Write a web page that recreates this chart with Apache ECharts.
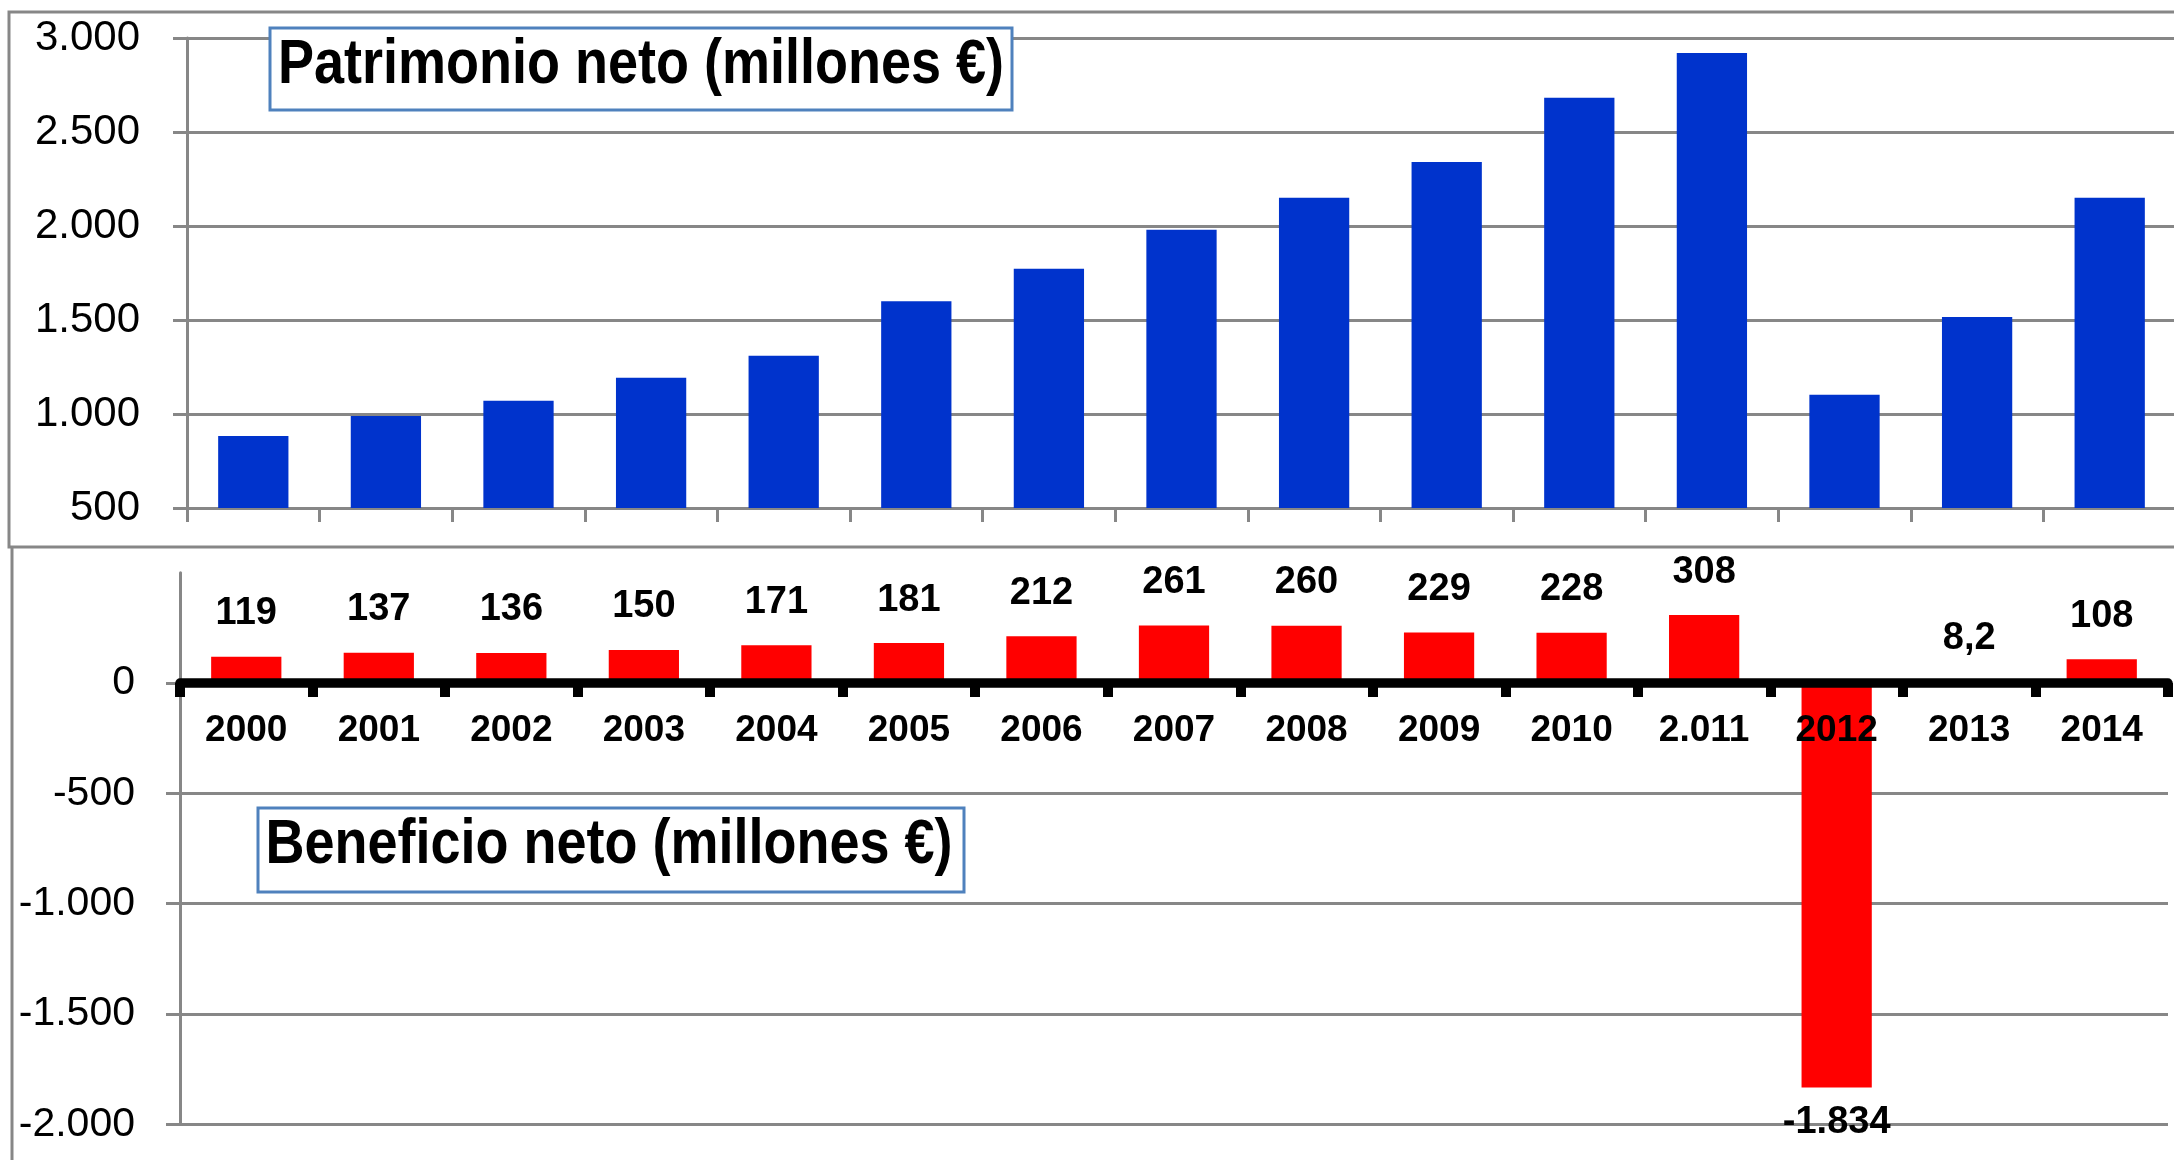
<!DOCTYPE html>
<html>
<head>
<meta charset="utf-8">
<script src="https://cdn.jsdelivr.net/npm/echarts@6/dist/echarts.min.js"></script>
<style>
    html, body {margin: 0; padding: 0; background: #fff;}
    #chart {width: 2174px; height: 1160px;}
</style>
</head>
<body>
<div id="chart"></div>
<script>
    // años
    var years = ['2000', '2001', '2002', '2003', '2004', '2005', '2006', '2007',
        '2008', '2009', '2010', '2.011', '2012', '2013', '2014'];
    // Patrimonio neto (millones €)
    var patrimonio = [883, 990, 1070, 1193, 1310, 1600, 1772, 1980, 2150, 2340, 2682, 2920, 1102, 1516, 2150];
    // Beneficio neto (millones €)
    var beneficio = [119, 137, 136, 150, 171, 181, 212, 261, 260, 229, 228, 308, -1834, 8.2, 108];
    // ejes
    var patrimonioAxis = [500, 3000, 500];
    var beneficioAxis = [-2000, 500, 500];

    var font = "'Liberation Sans', Arial, sans-serif";
    var grey = '#878787';

    // 1834 -> 1.834 , 8.2 -> 8,2
    function fmt(v) {
        var neg = v < 0;
        var parts = String(Math.abs(v)).split('.');
        var ent = parts[0].replace(/\B(?=(\d{3})+(?!\d))/g, '.');
        return (neg ? '-' : '') + ent + (parts[1] ? ',' + parts[1] : '');
    }

    // posición del cero en el gráfico de abajo
    var g2Top = 572.7, g2Height = 551.5;
    var zeroOffset = g2Height * (0 - beneficioAxis[0]) / (beneficioAxis[1] - beneficioAxis[0]);

    var chart = echarts.init(document.getElementById('chart'));
    chart.setOption({
        animation: false,
        backgroundColor: '#fff',
        grid: [
            {left: 187, top: 38, right: -2, height: 470, outerBoundsMode: 'none', containLabel: false},
            {left: 180, top: g2Top, width: 1988, height: g2Height, outerBoundsMode: 'none', containLabel: false}
        ],
        xAxis: [
            {
                gridIndex: 0,
                type: 'category',
                data: years,
                axisLine: {lineStyle: {color: grey, width: 3}},
                axisTick: {show: true, length: 14, lineStyle: {color: grey, width: 3}},
                axisLabel: {show: false}
            },
            {
                gridIndex: 1,
                type: 'category',
                data: years,
                z: 5,
                position: 'bottom',
                offset: -zeroOffset,
                axisLine: {onZero: false, lineStyle: {color: '#000', width: 9.5}},
                axisTick: {show: true, length: 14, lineStyle: {color: '#000', width: 10}},
                axisLabel: {
                    margin: 29,
                    color: '#000',
                    fontFamily: font,
                    fontWeight: 'bold',
                    fontSize: 37,
                    lineHeight: 38
                }
            }
        ],
        yAxis: [
            {
                gridIndex: 0,
                type: 'value',
                min: patrimonioAxis[0],
                max: patrimonioAxis[1],
                interval: patrimonioAxis[2],
                axisLine: {show: true, lineStyle: {color: grey, width: 3}},
                axisTick: {show: true, length: 14, lineStyle: {color: grey, width: 3}},
                splitLine: {lineStyle: {color: grey, width: 3}},
                axisLabel: {
                    margin: 47,
                    color: '#000',
                    fontFamily: font,
                    fontSize: 42,
                    formatter: fmt
                }
            },
            {
                gridIndex: 1,
                type: 'value',
                min: beneficioAxis[0],
                max: beneficioAxis[1],
                interval: beneficioAxis[2],
                axisLine: {show: true, lineStyle: {color: grey, width: 3}},
                axisTick: {show: true, length: 14, lineStyle: {color: grey, width: 3}},
                splitLine: {showMaxLine: false, lineStyle: {color: grey, width: 3}},
                axisLabel: {
                    margin: 45,
                    color: '#000',
                    fontFamily: font,
                    fontSize: 41,
                    showMaxLabel: false,
                    formatter: fmt
                }
            }
        ],
        series: [
            {
                name: 'Patrimonio neto',
                type: 'bar',
                xAxisIndex: 0,
                yAxisIndex: 0,
                barWidth: '53%',
                itemStyle: {color: '#0033CC'},
                data: patrimonio
            },
            {
                name: 'Beneficio neto',
                type: 'bar',
                xAxisIndex: 1,
                yAxisIndex: 1,
                barWidth: '53%',
                itemStyle: {color: '#FF0000'},
                label: {
                    show: true,
                    position: 'top',
                    distance: 24,
                    color: '#000',
                    fontFamily: font,
                    fontWeight: 'bold',
                    fontSize: 38,
                    lineHeight: 38,
                    formatter: function (p) { return fmt(p.value); }
                },
                data: beneficio.map(function (v) {
                    return v < 0 ? {value: v, label: {position: 'bottom', distance: 16}} : v;
                })
            }
        ],
        graphic: [
            // marcos
            {type: 'rect', z: -1, shape: {x: 9, y: 12, width: 2200, height: 535},
                style: {fill: null, stroke: grey, lineWidth: 3}},
            {type: 'line', z: -1, shape: {x1: 12, y1: 547, x2: 12, y2: 1170},
                style: {stroke: grey, lineWidth: 3}},
            // títulos
            {type: 'rect', z: 10, shape: {x: 270, y: 28, width: 742, height: 82},
                style: {fill: '#fff', stroke: '#4F81BD', lineWidth: 3}},
            {type: 'text', z: 11, x: 641, y: 66, scaleY: 1.16,
                style: {text: 'Patrimonio neto (millones €)', x: 0, y: 0, align: 'center', verticalAlign: 'middle',
                    font: 'bold 54px ' + font, fill: '#000'}},
            {type: 'rect', z: 10, shape: {x: 258, y: 808, width: 706, height: 84},
                style: {fill: '#fff', stroke: '#4F81BD', lineWidth: 3}},
            {type: 'text', z: 11, x: 609, y: 846, scaleY: 1.16,
                style: {text: 'Beneficio neto (millones €)', x: 0, y: 0, align: 'center', verticalAlign: 'middle',
                    font: 'bold 54px ' + font, fill: '#000'}}
        ]
    });
</script>
</body>
</html>
